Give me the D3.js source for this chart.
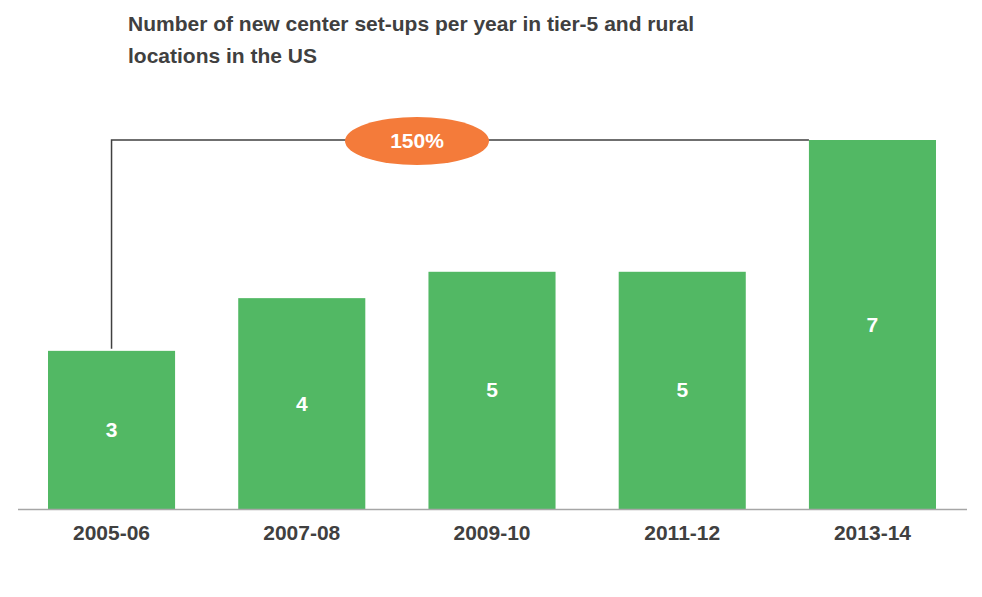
<!DOCTYPE html>
<html><head><meta charset="utf-8">
<script src="https://cdn.jsdelivr.net/npm/d3@7"></script>
<style>body{margin:0;background:#fff}text{font-family:"Liberation Sans",Arial,sans-serif;font-weight:bold}</style>
</head><body><svg id="c" width="982" height="597"></svg>
<script>
var years = ["2005-06","2007-08","2009-10","2011-12","2013-14"];
var counts = [3, 4, 4.5, 4.5, 7];
var growthLabel = "150%";
var titleLines = ["Number of new center set-ups per year in tier-5 and rural", "locations in the US"];

var svg = d3.select("#c");
var base = 509;
var x = d3.scaleBand().domain(years).range([48, 936]).paddingInner(0.332).paddingOuter(0);
var y = d3.scaleLinear().domain([0, 7]).range([base, 140]);
var fmt = d3.format(".0f");

svg.selectAll(".title").data(titleLines).enter().append("text")
  .attr("x", 128).attr("y", function(d, i){ return 31 + i * 32; })
  .attr("font-size", 21).attr("fill", "#404040").text(function(d){ return d; });

svg.selectAll("rect").data(counts).enter().append("rect")
  .attr("x", function(d, i){ return x(years[i]); })
  .attr("y", function(d){ return y(d); })
  .attr("width", x.bandwidth())
  .attr("height", function(d){ return base - y(d); })
  .attr("fill", "#52B864");

svg.selectAll(".val").data(counts).enter().append("text")
  .attr("x", function(d, i){ return x(years[i]) + x.bandwidth() / 2; })
  .attr("y", function(d){ return (y(d) + base) / 2 + 7; })
  .attr("text-anchor", "middle").attr("font-size", 21).attr("fill", "#fff")
  .text(function(d){ return fmt(d); });

svg.append("line").attr("x1", 18).attr("x2", 967).attr("y1", base + 0.5).attr("y2", base + 0.5)
  .attr("stroke", "#a6a6a6").attr("stroke-width", 1.5);

svg.selectAll(".cat").data(years).enter().append("text")
  .attr("x", function(d){ return x(d) + x.bandwidth() / 2; })
  .attr("y", 540).attr("text-anchor", "middle").attr("font-size", 21).attr("fill", "#404040")
  .text(function(d){ return d; });

// growth bracket from first to last bar
var x0 = x(years[0]) + x.bandwidth() / 2, x1 = x(years[4]);
var yTop = y(counts[4]);
svg.append("path")
  .attr("d", "M" + x0 + "," + (y(counts[0]) - 2) + "V" + yTop + "H" + x1)
  .attr("fill", "none").attr("stroke", "#404040").attr("stroke-width", 1.5);
svg.append("ellipse").attr("cx", 417).attr("cy", yTop + 1).attr("rx", 72).attr("ry", 24).attr("fill", "#F47B3A");
svg.append("text").attr("x", 417).attr("y", yTop + 8).attr("text-anchor", "middle")
  .attr("font-size", 21).attr("fill", "#fff").text(growthLabel);
</script></body></html>
